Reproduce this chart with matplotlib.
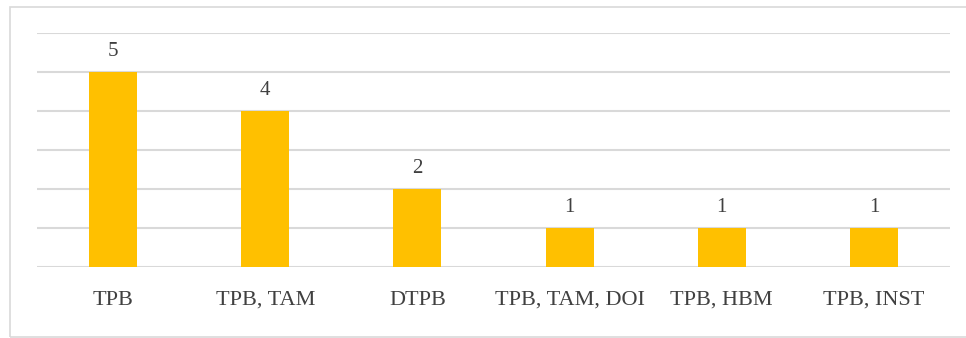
import matplotlib
matplotlib.use("Agg")
import matplotlib.pyplot as plt
from matplotlib.patches import Rectangle

categories = ["TPB", "TPB, TAM", "DTPB", "TPB, TAM, DOI", "TPB, HBM", "TPB, INST"]
counts = [5, 4, 2, 1, 1, 1]

W, H = 966, 338
fig = plt.figure(figsize=(W / 100, H / 100), dpi=100)
fig.patch.set_facecolor("white")

# outer chart border (right edge runs off the image)
fig.patches.append(Rectangle((10 / W, 1 / H), (W + 5) / W, (H - 8) / H,
                             transform=fig.transFigure, fill=False,
                             edgecolor="#D9D9D9", linewidth=1.2))

ax = fig.add_axes([37 / W, (H - 267) / H, (950 - 37) / W, (267 - 33) / H])
x = list(range(len(categories)))
bars = ax.bar(x, counts, width=0.315, color="#FFC000", zorder=3)
ax.set_xlim(-0.5, len(categories) - 0.5)
ax.set_ylim(0, 6)
ax.set_yticks(range(0, 7))
ax.yaxis.grid(True, color="#D9D9D9", linewidth=1.5, zorder=0)
ax.set_yticklabels([])
ax.tick_params(axis="y", length=0)
ax.set_xticks(x)
ax.set_xticklabels(categories, fontfamily="Liberation Serif", fontsize=16, color="#404040")
ax.tick_params(axis="x", length=0, pad=17)
for s in ax.spines.values():
    s.set_visible(False)

for b, v in zip(bars, counts):
    ax.annotate(str(v), (b.get_x() + b.get_width() / 2, v), xytext=(0, 8),
                textcoords="offset points", ha="center", va="bottom",
                fontfamily="Liberation Serif", fontsize=15, color="#404040")

fig.savefig("out.png", dpi=100, facecolor="white")
